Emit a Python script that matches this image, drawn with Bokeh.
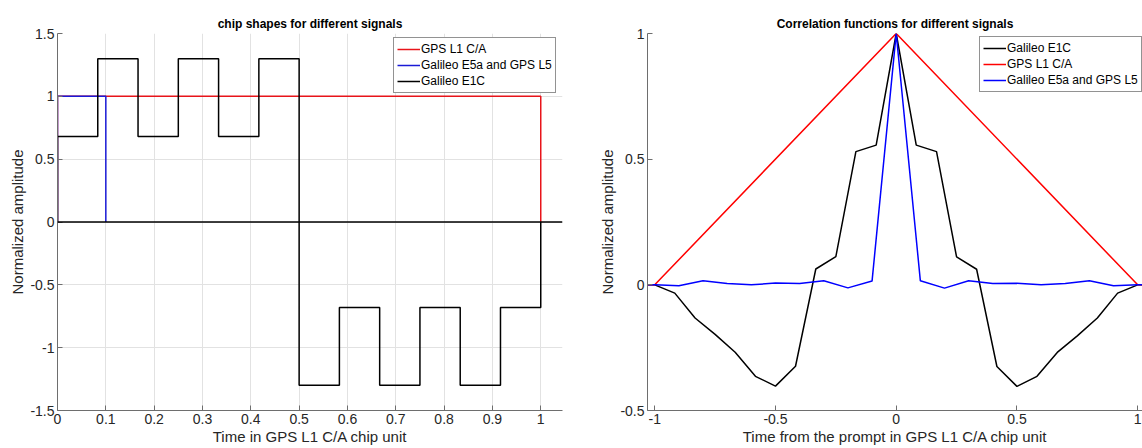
import numpy as np
from bokeh.plotting import figure
from bokeh.layouts import row
from bokeh.models import Legend, LegendItem, FixedTicker, CustomJSTickFormatter, Span, Range1d
from bokeh.embed import file_html
from bokeh.resources import INLINE

# ---------------- data: chip shapes ----------------
t_ca = [0.0, 0.0, 1.0, 1.0]
shape_ca = [0.0, 1.0, 1.0, 0.0]
t_e5 = [0.0, 0.0, 0.1, 0.1]
shape_e5 = [0.0, 1.0, 1.0, 0.0]
e1c_levels = [0.68, 1.3, 0.68, 1.3, 0.68, 1.3, -1.3, -0.68, -1.3, -0.68, -1.3, -0.68]
e1c_subchip = 1.0 / 12.0

# ---------------- data: correlation functions ----------------
lag_ca = [-1.04, -1.0, 0.0, 1.0, 1.04]
corr_ca = [0.0, 0.0, 1.0, 0.0, 0.0]

lag_e5 = [-1.04, -1.0, -0.9, -0.8, -0.7, -0.6, -0.5, -0.4, -0.3, -0.2, -0.1, 0.0,
          0.1, 0.2, 0.3, 0.4, 0.5, 0.6, 0.7, 0.8, 0.9, 1.0, 1.04]
corr_e5 = [0.0, 0.0, -0.004, 0.016, 0.005, 0.0, 0.007, 0.005, 0.016, -0.012, 0.015, 1.0,
           0.016, -0.013, 0.016, 0.005, 0.006, 0.0, 0.005, 0.016, -0.004, 0.0, 0.0]

lag_e1c = [-1.04, -1.0, -0.917, -0.833, -0.75, -0.667, -0.583, -0.5, -0.417, -0.333, -0.25,
           -0.167, -0.083, 0.0, 0.083, 0.167, 0.25, 0.333, 0.417, 0.5, 0.583, 0.667, 0.75,
           0.833, 0.917, 1.0, 1.04]
corr_e1c = [0.0, 0.0, -0.033, -0.132, -0.197, -0.268, -0.364, -0.403, -0.324, 0.063, 0.112,
            0.53, 0.556, 1.0, 0.556, 0.53, 0.111, 0.062, -0.325, -0.404, -0.364, -0.269, -0.203,
            -0.132, -0.033, 0.0, 0.0]

# ---------------- ticks ----------------
x1_ticks = [0, 0.1, 0.2, 0.3, 0.4, 0.5, 0.6, 0.7, 0.8, 0.9, 1]
y1_ticks = [-1.5, -1, -0.5, 0, 0.5, 1, 1.5]
x2_ticks = [-1, -0.5, 0, 0.5, 1]
y2_ticks = [-0.5, 0, 0.5, 1]

FONT = "Liberation Sans"
TXT = "#262626"
AXC = "#6e6e6e"
LW = 1.5

fmt_code = "return String(Math.round(tick*1000)/1000);"


def style(p, xticks, yticks, xlabel, ylabel, grid):
    p.title.text_font = FONT
    p.title.text_font_size = "12px"
    p.title.text_font_style = "bold"
    p.title.text_color = "#000000"
    p.title.align = "center"
    p.title.standoff = 6
    p.outline_line_color = None
    p.background_fill_color = "white"
    p.border_fill_color = "white"
    for ax, ticks, lab in ((p.xaxis[0], xticks, xlabel), (p.yaxis[0], yticks, ylabel)):
        ax.ticker = FixedTicker(ticks=ticks)
        ax.formatter = CustomJSTickFormatter(code=fmt_code)
        ax.axis_label = lab
        ax.axis_label_text_font = FONT
        ax.axis_label_text_font_size = "15px"
        ax.axis_label_text_font_style = "normal"
        ax.axis_label_text_color = TXT
        ax.axis_label_standoff = 1
        ax.major_label_text_font = FONT
        ax.major_label_text_font_size = "14px"
        ax.major_label_text_color = TXT
        ax.major_label_standoff = 3
        ax.axis_line_color = AXC
        ax.axis_line_width = 1
        ax.major_tick_line_color = AXC
        ax.major_tick_in = 5
        ax.major_tick_out = 0
        ax.minor_tick_line_color = None
    if grid:
        p.xgrid.ticker = FixedTicker(ticks=xticks)
        p.ygrid.ticker = FixedTicker(ticks=yticks)
        p.grid.grid_line_color = "#e2e2e2"
        p.grid.grid_line_width = 1
    else:
        p.grid.grid_line_color = None


def make_legend(items, loc):
    lg = Legend(items=items, location=loc)
    lg.label_text_font = FONT
    lg.label_text_font_size = "12px"
    lg.label_text_color = "#000000"
    lg.label_height = 16
    lg.glyph_height = 16
    lg.glyph_width = 23
    lg.label_standoff = 1
    lg.spacing = 0
    lg.padding = 3
    lg.margin = 0
    lg.border_line_color = TXT
    lg.border_line_width = 1
    lg.background_fill_color = "white"
    lg.background_fill_alpha = 1.0
    return lg


# ---------------- left figure ----------------
p1 = figure(width=572, height=448, output_backend="svg", toolbar_location=None,
            x_range=Range1d(0, 1.045), y_range=Range1d(-1.5, 1.5),
            title="chip shapes for different signals",
            min_border_left=57, min_border_right=10, min_border_top=33, min_border_bottom=38)
style(p1, x1_ticks, y1_ticks, "Time in GPS L1 C/A chip unit", "Normalized amplitude", True)

edges = np.arange(len(e1c_levels) + 1) * e1c_subchip
xs_e1c = [0.0]
ys_e1c = [0.0]
for k, lv in enumerate(e1c_levels):
    xs_e1c += [edges[k], edges[k + 1]]
    ys_e1c += [lv, lv]
xs_e1c += [edges[-1]]
ys_e1c += [0.0]

r_ca = p1.line(t_ca, shape_ca, line_color="#e8141a", line_width=LW)
r_e5 = p1.line(t_e5, shape_e5, line_color="#1a1ad6", line_width=LW)
p1.add_layout(Span(location=0, dimension="width", line_color="#000000", line_width=LW))
r_e1 = p1.line(xs_e1c, ys_e1c, line_color="#000000", line_width=LW)

lg1 = make_legend([LegendItem(label="GPS L1 C/A", renderers=[r_ca]),
                   LegendItem(label="Galileo E5a and GPS L5", renderers=[r_e5]),
                   LegendItem(label="Galileo E1C", renderers=[r_e1])], (336, 317))
p1.add_layout(lg1)

# ---------------- right figure ----------------
p2 = figure(width=570, height=448, output_backend="svg", toolbar_location=None,
            x_range=Range1d(-1.03, 1.02), y_range=Range1d(-0.5, 1.0),
            title="Correlation functions for different signals",
            min_border_left=75, min_border_right=0, min_border_top=33, min_border_bottom=38)
style(p2, x2_ticks, y2_ticks, "Time from the prompt in GPS L1 C/A chip unit", "Normalized amplitude", False)

q_e1 = p2.line(lag_e1c, corr_e1c, line_color="#000000", line_width=LW)
q_ca = p2.line(lag_ca, corr_ca, line_color="#ff0000", line_width=LW)
q_e5 = p2.line(lag_e5, corr_e5, line_color="#0000ff", line_width=LW)

lg2 = make_legend([LegendItem(label="Galileo E1C", renderers=[q_e1]),
                   LegendItem(label="GPS L1 C/A", renderers=[q_ca]),
                   LegendItem(label="Galileo E5a and GPS L5", renderers=[q_e5])], (332, 318))
p2.add_layout(lg2)

layout = row(p1, p2)
open("out.html", "w").write(file_html(layout, INLINE))
